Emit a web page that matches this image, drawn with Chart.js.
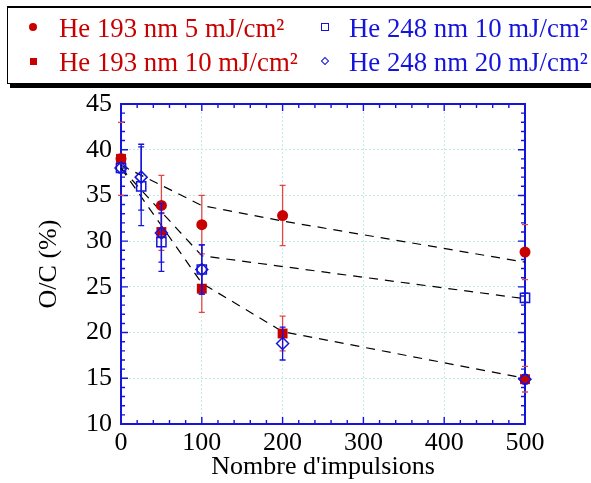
<!DOCTYPE html>
<html>
<head>
<meta charset="utf-8">
<script src="https://cdn.jsdelivr.net/npm/chart.js@4/dist/chart.umd.min.js"></script>
<style>
  body { margin: 0; background: #fff; }
  #wrap { position: relative; width: 591px; height: 483px; overflow: hidden; }
  #box {
    position: absolute; left: 7px; top: 6px; width: 610px; height: 75px;
    border: 1.5px solid #000; border-top-width: 2px;
    box-shadow: 3px 4px 0 #000; background: #fff;
  }
  .item {
    position: absolute; font-family: "Liberation Serif", serif;
    font-size: 26.8px; line-height: 26px; white-space: nowrap;
  }
  .mk { position: absolute; box-sizing: border-box; }
  canvas { position: absolute; left: 0; top: 0; }
</style>
</head>
<body>
<div id="wrap">
  <canvas id="ocChart" width="591" height="483"></canvas>
  <div id="box"></div>
  <div id="legend"></div>
</div>
<script>
// --- data ---
const seriesNames = [
  'He 193 nm 5 mJ/cm²', 'He 193 nm 10 mJ/cm²',
  'He 248 nm 10 mJ/cm²', 'He 248 nm 20 mJ/cm²'
];

// He 193 nm 5 mJ/cm2
const pulses193a = [0, 50, 100, 200, 500];
const oc193a = [39, 33.9, 31.8, 32.8, 28.8];
const err193a = [4, 3.3, 3.2, 3.3, 3.0];

// He 193 nm 10 mJ/cm2
const pulses193b = [0, 50, 100, 200, 500];
const oc193b = [39, 31, 24.8, 19.9, 14.9];
const err193b = [0.5, 2, 2.6, 1.9, 1.4];

// He 248 nm 10 mJ/cm2
const pulses248a = [0, 25, 50, 100, 500];
const oc248a = [38, 36, 29.9, 26.9, 23.8];
const err248a = [0.5, 4.3, 3.2, 2.7, 0.5];

// He 248 nm 20 mJ/cm2
const pulses248b = [0, 25, 50, 100, 200, 500];
const oc248b = [38, 37, 30.9, 26.9, 18.8, 14.9];
const err248b = [0.5, 3.6, 3.2, 2.7, 1.8, 0.5];

// dashed guide curves
const fitTopX = [0, 100, 200, 500];
const fitTopY = [38.3, 33.9, 32.2, 27.7];
const fitMidX = [0, 100, 500];
const fitMidY = [38, 28.4, 23.7];
const fitLowX = [0, 100, 200, 500];
const fitLowY = [38, 25.4, 20.1, 15];

const xTicks = [0, 100, 200, 300, 400, 500];
const yTicks = [10, 15, 20, 25, 30, 35, 40, 45];

const RED = '#c80000';
const RED_ERR = '#e04848';
const BLUE = '#1414dc';
const FONT = "'Liberation Serif', 'Times New Roman', serif";

const pts = (xs, ys) => xs.map((x, i) => ({ x: x, y: ys[i] }));

function fitLine(xs, ys) {
  return {
    data: pts(xs, ys), showLine: true, borderColor: '#000', borderWidth: 1.2,
    borderDash: [9, 7], pointRadius: 0, order: 10, clip: false
  };
}

// --- plugins ---
const errorBars = {
  id: 'errorBars',
  beforeDatasetDraw(chart, args) {
    const ds = chart.data.datasets[args.index];
    if (!ds.errors) return;
    const { x, y } = chart.scales, ctx = chart.ctx;
    ctx.save();
    ctx.strokeStyle = ds.errorColor;
    ctx.lineWidth = 1.3;
    ctx.beginPath();
    args.meta.data.forEach((p, i) => {
      const v = ds.data[i].y, e = ds.errors[i];
      const top = y.getPixelForValue(v + e), bot = y.getPixelForValue(v - e);
      // on the frame edges the stem is hidden by the axis line
      const onEdge = ds.data[i].x === x.min || ds.data[i].x === x.max;
      if (!onEdge) { ctx.moveTo(p.x, top); ctx.lineTo(p.x, bot); }
      ctx.moveTo(p.x - 3, top); ctx.lineTo(p.x + 3, top);
      ctx.moveTo(p.x - 3, bot); ctx.lineTo(p.x + 3, bot);
    });
    ctx.stroke();
    ctx.restore();
  }
};

const frame = {
  id: 'frame',
  beforeDatasetsDraw(chart) {
    const { ctx, chartArea: a, scales: { x, y } } = chart;
    ctx.save();
    ctx.strokeStyle = BLUE;
    ctx.lineWidth = 1.4;
    ctx.beginPath();
    for (let v = x.min; v <= x.max; v += 20) {
      const px = x.getPixelForValue(v), len = v % 100 === 0 ? 7 : 4;
      ctx.moveTo(px, a.bottom); ctx.lineTo(px, a.bottom - len);
      ctx.moveTo(px, a.top); ctx.lineTo(px, a.top + len);
    }
    for (let v = y.min; v <= y.max; v += 1) {
      const py = y.getPixelForValue(v), len = v % 5 === 0 ? 7 : 4;
      ctx.moveTo(a.left, py); ctx.lineTo(a.left + len, py);
      ctx.moveTo(a.right, py); ctx.lineTo(a.right - len, py);
    }
    ctx.stroke();
    ctx.lineWidth = 2;
    ctx.strokeRect(a.left, a.top, a.right - a.left, a.bottom - a.top);
    ctx.restore();
  }
};

const chart = new Chart(document.getElementById('ocChart'), {
  type: 'scatter',
  data: {
    datasets: [
      {
        label: seriesNames[0], data: pts(pulses193a, oc193a), errors: err193a, errorColor: RED_ERR,
        pointStyle: 'circle', pointRadius: 5.5, backgroundColor: RED, borderColor: RED,
        borderWidth: 0, order: 3, clip: false
      },
      {
        label: seriesNames[1], data: pts(pulses193b, oc193b), errors: err193b, errorColor: RED_ERR,
        pointStyle: 'rect', pointRadius: 7, backgroundColor: RED, borderColor: RED,
        borderWidth: 0, order: 4, clip: false
      },
      {
        label: seriesNames[2], data: pts(pulses248a, oc248a), errors: err248a, errorColor: BLUE,
        pointStyle: 'rect', pointRadius: 6.5, backgroundColor: 'rgba(255,255,255,0)', borderColor: BLUE,
        borderWidth: 1.5, order: 2, clip: false
      },
      {
        label: seriesNames[3], data: pts(pulses248b, oc248b), errors: err248b, errorColor: BLUE,
        pointStyle: 'rectRot', pointRadius: 6, backgroundColor: 'rgba(255,255,255,0)', borderColor: BLUE,
        borderWidth: 1.5, order: 1, clip: false
      },
      fitLine(fitTopX, fitTopY),
      fitLine(fitMidX, fitMidY),
      fitLine(fitLowX, fitLowY)
    ]
  },
  options: {
    responsive: false,
    animation: false,
    layout: { padding: { top: 104, right: 66, left: 0, bottom: 0 } },
    plugins: { legend: { display: false }, tooltip: { enabled: false } },
    scales: {
      x: {
        type: 'linear', min: 0, max: 500,
        afterBuildTicks: s => { s.ticks = xTicks.map(v => ({ value: v })); },
        afterFit: s => { s.height = 59; },
        grid: { color: '#bfece4', drawTicks: false },
        border: { display: false, dash: [2, 2] },
        ticks: { color: '#000', padding: 4, font: { family: FONT, size: 26 } },
        title: {
          display: true, text: "Nombre d'impulsions", color: '#000',
          font: { family: FONT, size: 26 }, padding: { top: 0, bottom: 0 }
        }
      },
      y: {
        type: 'linear', min: 10, max: 45,
        afterBuildTicks: s => { s.ticks = yTicks.map(v => ({ value: v })); },
        afterFit: s => { s.width = 121; },
        grid: { color: '#bfece4', drawTicks: false },
        border: { display: false, dash: [2, 2] },
        ticks: { color: '#000', padding: 9, font: { family: FONT, size: 26 } },
        title: {
          display: true, text: 'O/C (%)', color: '#000',
          font: { family: FONT, size: 26 }, padding: { top: 34, bottom: 0 }
        }
      }
    }
  },
  plugins: [frame, errorBars]
});

// --- html legend, two columns ---
const legendItems = [
  { name: seriesNames[0], color: RED, x: 59, base: 37, mk: 'circle', mx: 33, my: 27 },
  { name: seriesNames[1], color: RED, x: 59, base: 71, mk: 'square', mx: 33, my: 61 },
  { name: seriesNames[2], color: BLUE, x: 349, base: 37, mk: 'osquare', mx: 325, my: 27 },
  { name: seriesNames[3], color: BLUE, x: 349, base: 71, mk: 'diamond', mx: 325, my: 61 }
];
const legend = document.getElementById('legend');
legendItems.forEach(it => {
  const t = document.createElement('div');
  t.className = 'item';
  t.textContent = it.name;
  t.style.color = it.color;
  t.style.left = it.x + 'px';
  t.style.top = (it.base - 22.3) + 'px';
  legend.appendChild(t);
  const m = document.createElement('div');
  m.className = 'mk';
  let s = 8;
  if (it.mk === 'circle') { m.style.background = it.color; m.style.borderRadius = '50%'; }
  if (it.mk === 'square') { s = 7; m.style.background = it.color; }
  if (it.mk === 'osquare') { s = 7.5; m.style.border = '1.2px solid ' + it.color; }
  if (it.mk === 'diamond') { s = 6; m.style.border = '1.2px solid ' + it.color; m.style.transform = 'rotate(45deg)'; }
  m.style.width = s + 'px'; m.style.height = s + 'px';
  m.style.left = (it.mx - s / 2) + 'px'; m.style.top = (it.my - s / 2) + 'px';
  legend.appendChild(m);
});
</script>
</body>
</html>
